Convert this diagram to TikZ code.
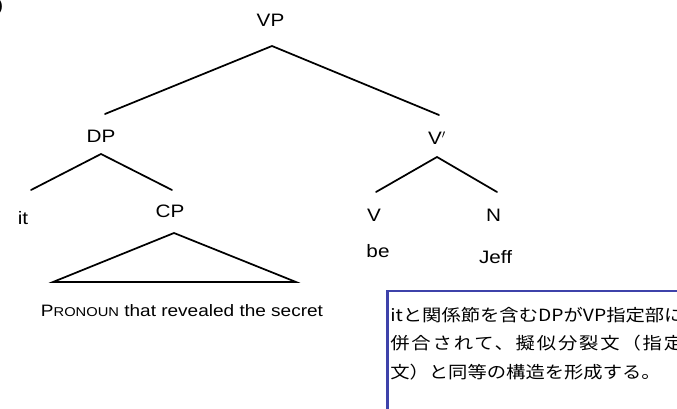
\documentclass[tikz,border=0pt]{standalone}
\usepackage{fontspec}
\setmainfont[FakeStretch=1.15]{Liberation Sans}
\newfontfamily\jpfont[FakeStretch=1.15]{Noto Sans CJK JP}
\newfontfamily\jpwidefont[FakeStretch=1.15,LetterSpace=11]{Noto Sans CJK JP}
\definecolor{boxblue}{RGB}{62,66,170}
\begin{document}
\begin{tikzpicture}[x=0.75pt,y=-0.75pt,
  lbl/.style={font=\fontsize{13.5}{15}\selectfont, inner sep=0, anchor=base},
  edge/.style={line width=1.3pt, line cap=round},
  jpline/.style={font=\jpfont\fontsize{12.6}{14}\selectfont, inner sep=0, anchor=base west},
  notebox/.style={draw=boxblue, line width=1.6pt, fill=white}]
\useasboundingbox (0,0) rectangle (677,409);
\clip (0,0) rectangle (677,409);
% fragment of a label cut at the left edge
\node[font=\fontsize{13.5}{15}\selectfont, inner sep=0, anchor=base east] (frag) at (3.5,12) {)};
% tree labels
\node[lbl] (VP) at (270.5,27) {VP};
\node[lbl] (DP) at (101,143) {DP};
\node[lbl] (Vbar) at (437,145) {V$'$};
\node[lbl] (it) at (23,225) {it};
\node[lbl] (CP) at (170,217.3) {CP};
\node[lbl] (V) at (374,221.7) {V};
\node[lbl] (N) at (493.7,221.7) {N};
\node[lbl] (be) at (378,257.3) {be};
\node[lbl] (Jeff) at (495.5,263) {Jeff};
\node[font=\fontsize{12.4}{14}\selectfont, inner sep=0, anchor=base] (pron) at (182,316.7)
  {P{\fontsize{9.6}{12}\selectfont RONOUN} that revealed the secret};
% branch points
\coordinate (vpt) at (272,46);
\coordinate (vpl) at (105,114);
\coordinate (vpr) at (439,115);
\coordinate (dpt) at (101,154);
\coordinate (dpl) at (31,190);
\coordinate (dpr) at (172,190);
\coordinate (vbt) at (437,157);
\coordinate (vbl) at (376,192);
\coordinate (vbr) at (497,192);
\coordinate (cpt) at (174,233);
\coordinate (cpl) at (53,282);
\coordinate (cpr) at (296,282);
\draw[edge] (vpl) -- (vpt) -- (vpr);
\draw[edge] (dpl) -- (dpt) -- (dpr);
\draw[edge] (vbl) -- (vbt) -- (vbr);
\draw[edge, line join=miter] (cpt) -- (cpl) -- (cpr) -- cycle;
% note box
\draw[notebox] (387.5,291) rectangle (720,440);
\node[jpline] (j1) at (390,321) {itと関係節を含むDPがVP指定部に};
\node[jpline, font=\jpwidefont\fontsize{12.6}{14}\selectfont] (j2) at (390,349.5) {併合されて、擬似分裂文（指定};
\node[jpline] (j3) at (390,378) {文）と同等の構造を形成する。};
\end{tikzpicture}
\end{document}
